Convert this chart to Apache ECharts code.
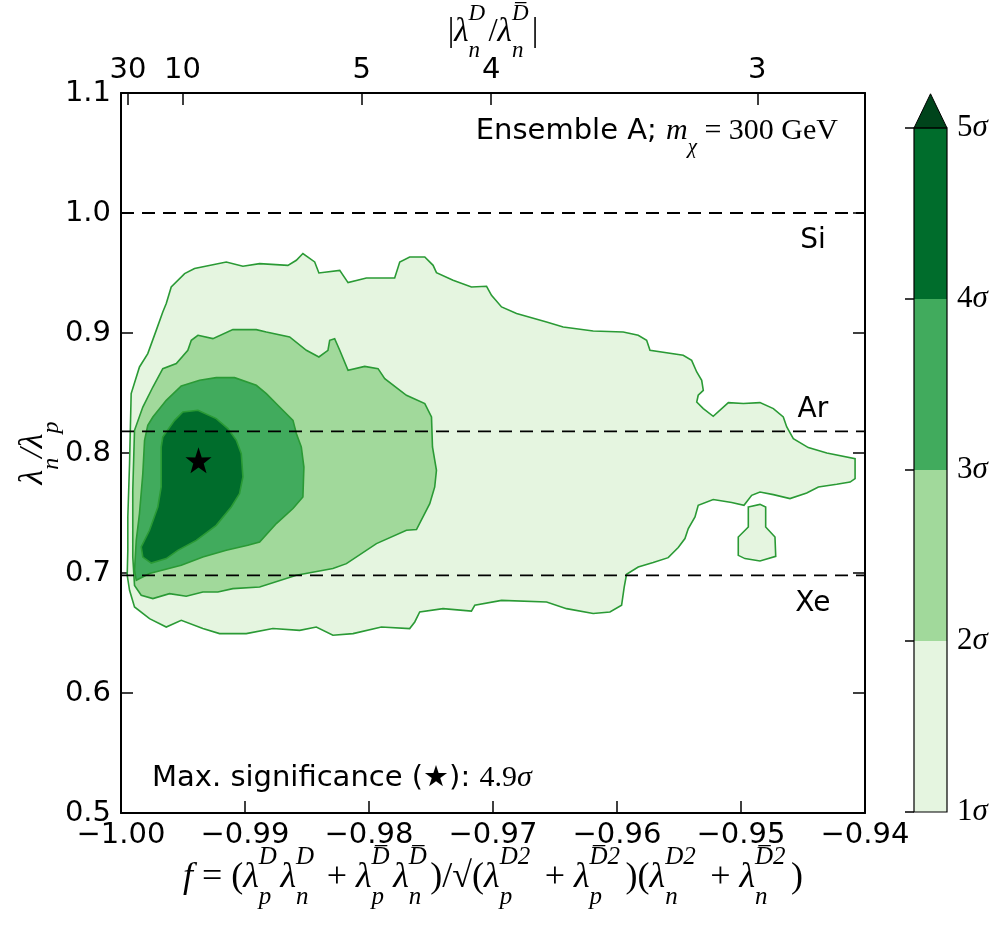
<!DOCTYPE html>
<html>
<head>
<meta charset="utf-8">
<script src="https://cdn.jsdelivr.net/npm/echarts@6/dist/echarts.min.js"></script>
<style>
html, body { margin: 0; padding: 0; background: #fff; }
#chart { width: 1002px; height: 930px; }
</style>
</head>
<body>
<div id="chart"></div>
<script>
// contour outlines, points are [f, lambda_n/lambda_p]
const sigma1 = [[-0.99635,0.9245],[-0.99595,0.9383],[-0.99487,0.9495],[-0.99407,0.9537],[-0.99151,0.9592],[-0.99017,0.9556],[-0.98882,0.9578],[-0.98654,0.9564],[-0.98586,0.9606],[-0.98533,0.9662],[-0.98438,0.9592],[-0.98404,0.95],[-0.98236,0.9522],[-0.98169,0.942],[-0.98021,0.9458],[-0.97793,0.9458],[-0.97752,0.9592],[-0.97672,0.9633],[-0.9755,0.9633],[-0.97483,0.9564],[-0.97456,0.9503],[-0.97322,0.9439],[-0.97174,0.9383],[-0.97052,0.9389],[-0.97012,0.9314],[-0.96931,0.9217],[-0.9681,0.9162],[-0.96568,0.9092],[-0.96434,0.905],[-0.96192,0.9017],[-0.9595,0.9008],[-0.95829,0.8981],[-0.95761,0.8939],[-0.95734,0.8856],[-0.95466,0.8814],[-0.95398,0.8772],[-0.95357,0.8675],[-0.95317,0.8606],[-0.95304,0.8522],[-0.95345,0.8481],[-0.95357,0.8425],[-0.95304,0.837],[-0.95224,0.8306],[-0.95102,0.842],[-0.94981,0.8412],[-0.94847,0.842],[-0.94739,0.837],[-0.94659,0.83],[-0.94631,0.8217],[-0.94578,0.812],[-0.94457,0.8045],[-0.94308,0.8],[-0.9408,0.7953],[-0.9408,0.7787],[-0.9412,0.7758],[-0.94228,0.7739],[-0.94376,0.7717],[-0.9447,0.7667],[-0.94605,0.762],[-0.94739,0.7653],[-0.94847,0.7675],[-0.94914,0.7647],[-0.94976,0.7564],[-0.95075,0.7587],[-0.95224,0.7612],[-0.95345,0.7564],[-0.95371,0.7467],[-0.95425,0.737],[-0.95452,0.7287],[-0.95506,0.7212],[-0.95587,0.7128],[-0.95708,0.7087],[-0.95829,0.705],[-0.95923,0.6989],[-0.95942,0.6883],[-0.95963,0.6731],[-0.96057,0.6675],[-0.96192,0.6662],[-0.96407,0.6703],[-0.96568,0.6758],[-0.96931,0.6772],[-0.97147,0.6731],[-0.97174,0.6683],[-0.97403,0.6703],[-0.97591,0.6675],[-0.97631,0.6592],[-0.97672,0.6537],[-0.979,0.655],[-0.98129,0.6495],[-0.98291,0.6481],[-0.98425,0.655],[-0.98559,0.6522],[-0.98775,0.6537],[-0.9899,0.6495],[-0.99205,0.6495],[-0.9934,0.6537],[-0.99514,0.6606],[-0.99635,0.655],[-0.9977,0.662],[-0.99891,0.6717],[-0.99931,0.6856],[-0.9995,0.6981],[-0.99945,0.7189],[-0.99945,0.7467],[-0.99931,0.7912],[-0.99918,0.8495],[-0.99851,0.8717],[-0.99784,0.8828],[-0.99716,0.9022],[-0.99663,0.9175]];
const sigma1Island = [[-0.94941,0.755],[-0.94847,0.7572],[-0.94801,0.755],[-0.94801,0.7383],[-0.94726,0.73],[-0.9472,0.7139],[-0.94847,0.71],[-0.94968,0.712],[-0.95022,0.7147],[-0.95022,0.73],[-0.94941,0.7383]];
const sigma2 = [[-0.9938,0.8981],[-0.99259,0.8953],[-0.99098,0.9028],[-0.98909,0.9028],[-0.98828,0.9008],[-0.9864,0.8967],[-0.98505,0.8856],[-0.98404,0.88],[-0.98331,0.8856],[-0.98317,0.8939],[-0.98277,0.8953],[-0.98236,0.8856],[-0.98169,0.8689],[-0.98035,0.8722],[-0.97927,0.8703],[-0.97873,0.862],[-0.97698,0.8481],[-0.9755,0.8412],[-0.97496,0.83],[-0.97488,0.805],[-0.97456,0.7856],[-0.9747,0.7717],[-0.9751,0.7578],[-0.97617,0.7362],[-0.97698,0.7356],[-0.9794,0.7245],[-0.98182,0.7078],[-0.98291,0.7037],[-0.98586,0.6981],[-0.98882,0.6883],[-0.99098,0.687],[-0.99219,0.6842],[-0.9934,0.6842],[-0.99474,0.6806],[-0.99609,0.6828],[-0.99743,0.6787],[-0.99837,0.6814],[-0.99891,0.6897],[-0.99905,0.7133],[-0.99905,0.7689],[-0.99891,0.8189],[-0.99824,0.8383],[-0.99743,0.855],[-0.99663,0.8703],[-0.99554,0.8745],[-0.99461,0.8856],[-0.99433,0.8939]];
const sigma3 = [[-0.99514,0.8558],[-0.99366,0.8606],[-0.99232,0.8628],[-0.99084,0.8628],[-0.98909,0.8564],[-0.98828,0.8495],[-0.98721,0.8383],[-0.98613,0.8272],[-0.98586,0.8162],[-0.98546,0.805],[-0.98525,0.7883],[-0.98533,0.7633],[-0.98613,0.7537],[-0.98747,0.7412],[-0.98882,0.7258],[-0.98977,0.7231],[-0.99151,0.7189],[-0.9934,0.7133],[-0.99514,0.7064],[-0.9977,0.6995],[-0.99877,0.6939],[-0.99891,0.7022],[-0.99877,0.7272],[-0.99851,0.7495],[-0.99824,0.7828],[-0.9981,0.8106],[-0.99784,0.8231],[-0.99743,0.83],[-0.99635,0.8439]];
const sigma4 = [[-0.99501,0.8342],[-0.9938,0.8356],[-0.99232,0.8287],[-0.99138,0.8203],[-0.9907,0.8106],[-0.9903,0.7995],[-0.99017,0.78],[-0.99044,0.7662],[-0.99111,0.755],[-0.99232,0.7397],[-0.99393,0.7272],[-0.99542,0.7189],[-0.99635,0.712],[-0.99756,0.7083],[-0.99824,0.7133],[-0.99837,0.7217],[-0.9977,0.7356],[-0.99703,0.755],[-0.99676,0.7717],[-0.99676,0.805],[-0.99663,0.8133],[-0.99568,0.8272]];

const bestFit = [-0.99375, 0.7939];
const maxSignificance = 4.9;

const nuclei = ['Si', 'Ar', 'Xe'];
const nucleiRatio = [1.0, 0.818, 0.698];

const ratioTicks = [30, 10, 5, 4, 3];     // |lambda_n^D / lambda_n^Dbar|
const sigmaLevels = [1, 2, 3, 4, 5];
const levelColors = ['#e5f5e0', '#a1d99b', '#41ab5d', '#006d2c'];
const overColor = '#00441b';
const lineGreen = '#2a9a35';

const SANS = 'DejaVu Sans';
const SERIF = 'Liberation Serif';

// position of a |ratio| value on the f axis
const ratioToF = r => -r / Math.sqrt(r * r + 1);
const topTickPos = ratioTicks.map(ratioToF);

function mathRich(size) {
  const s = Math.round(size * 0.7);
  const base = { align: 'left', color: '#000', fontFamily: SERIF };
  const mk = o => Object.assign({}, base, o);
  return {
    it: mk({ fontStyle: 'italic', fontSize: size, lineHeight: size * 1.8, verticalAlign: 'middle' }),
    rm: mk({ fontSize: size, lineHeight: size * 1.8, verticalAlign: 'middle' }),
    sans: mk({ fontFamily: SANS, fontSize: size, lineHeight: size * 1.8, verticalAlign: 'middle' }),
    sup0: mk({ fontStyle: 'italic', fontSize: s, lineHeight: size * 1.1, verticalAlign: 'top', width: 0 }),
    sub: mk({ fontStyle: 'italic', fontSize: s, lineHeight: size * 1.3, verticalAlign: 'bottom' }),
    sub1: mk({ fontStyle: 'italic', fontSize: s, lineHeight: size * 1.3, verticalAlign: 'bottom', width: size * 0.6 }),
    sub2: mk({ fontStyle: 'italic', fontSize: s, lineHeight: size * 1.3, verticalAlign: 'bottom', width: size * 1.0 })
  };
}
const BAR = 'D\u0305';
const lam = (sub, sup, wide) => `{it|λ}{sup0|${sup}}{${wide ? 'sub2' : 'sub1'}|${sub}}`;

const xTitle = '{it|f}{rm| = (}' + lam('p', 'D') + lam('n', 'D') + '{rm| + }' + lam('p', BAR) + lam('n', BAR) +
  '{rm|)/√(}' + lam('p', 'D2', 1) + '{rm| + }' + lam('p', BAR + '2', 1) + '{rm|)(}' +
  lam('n', 'D2', 1) + '{rm| + }' + lam('n', BAR + '2', 1) + '{rm|)}';
const topTitle = '{rm||}' + lam('n', 'D') + '{rm|/}' + lam('n', BAR) + '{rm||}';
const yTitle = '{it|λ}{sub|n}{it|/λ}{sub|p}';

const contourSets = [
  { pts: sigma1, color: levelColors[0] },
  { pts: sigma1Island, color: levelColors[0] },
  { pts: sigma2, color: levelColors[1] },
  { pts: sigma3, color: levelColors[2] },
  { pts: sigma4, color: levelColors[3] }
];

const starPath = 'path://M50,0 L61.8,35.1 L97.6,34.5 L69.1,56.7 L79.4,90.5 L50,70 L20.6,90.5 L30.9,56.7 L2.4,34.5 L38.2,35.1 Z';
const fmtMinus = (v, d) => (v < 0 ? '\u2212' : '') + Math.abs(v).toFixed(d);
const tickFont = { fontFamily: SANS, fontSize: 29, color: '#000' };
const axisLine = { show: true, lineStyle: { color: '#000', width: 2 } };
const annotRich = Object.assign(mathRich(30), {
  sans: { align: 'left', fontFamily: SANS, fontSize: 29, lineHeight: 54, verticalAlign: 'middle', color: '#000' }
});

const chart = echarts.init(document.getElementById('chart'));
chart.setOption({
  animation: false,
  backgroundColor: '#fff',
  grid: [
    { left: 121, top: 93, right: 137, bottom: 117, outerBoundsMode: 'none', containLabel: false },
    { left: 914, top: 128, width: 33, bottom: 118, outerBoundsMode: 'none', containLabel: false }
  ],
  xAxis: [
    {
      gridIndex: 0, type: 'value', min: -1, max: -0.94, interval: 0.01, position: 'bottom',
      axisLine: axisLine,
      axisTick: { inside: true, length: 12, lineStyle: { color: '#000', width: 1.5 } },
      axisLabel: Object.assign({ margin: 8, formatter: v => fmtMinus(v, 2) }, tickFont),
      splitLine: { show: false },
      name: xTitle, nameLocation: 'middle', nameGap: 32, nameMoveOverlap: false,
      nameTextStyle: { rich: mathRich(36) }
    },
    {
      gridIndex: 0, type: 'value', min: -1, max: -0.94, position: 'top',
      axisLine: axisLine,
      axisTick: { inside: true, length: 12, customValues: topTickPos, lineStyle: { color: '#000', width: 1.5 } },
      axisLabel: Object.assign({
        margin: 8, customValues: topTickPos,
        formatter: v => {
          let best = 0;
          topTickPos.forEach((p, i) => { if (Math.abs(p - v) < Math.abs(topTickPos[best] - v)) best = i; });
          return String(ratioTicks[best]);
        }
      }, tickFont),
      splitLine: { show: false },
      name: topTitle, nameLocation: 'middle', nameGap: 31, nameMoveOverlap: false,
      nameTextStyle: { rich: mathRich(33) }
    },
    { gridIndex: 1, type: 'value', min: 0, max: 1, show: false }
  ],
  yAxis: [
    {
      gridIndex: 0, type: 'value', min: 0.5, max: 1.1, interval: 0.1, position: 'left',
      axisLine: axisLine,
      axisTick: { inside: true, length: 12, lineStyle: { color: '#000', width: 1.5 } },
      axisLabel: Object.assign({ margin: 10, formatter: v => v.toFixed(1) }, tickFont),
      splitLine: { show: false },
      name: yTitle, nameLocation: 'middle', nameGap: 57, nameRotate: 90, nameMoveOverlap: false,
      nameTextStyle: { rich: mathRich(34) }
    },
    {
      gridIndex: 0, type: 'value', min: 0.5, max: 1.1, interval: 0.1, position: 'right',
      axisLine: axisLine,
      axisTick: { inside: true, length: 12, lineStyle: { color: '#000', width: 1.5 } },
      axisLabel: { show: false },
      splitLine: { show: false }
    },
    {
      gridIndex: 1, type: 'value', min: sigmaLevels[0], max: sigmaLevels[sigmaLevels.length - 1], interval: 1,
      position: 'right',
      axisLine: { show: false },
      axisTick: { inside: true, length: 9, lineStyle: { color: '#000', width: 1.5 } },
      axisLabel: {
        margin: 10,
        formatter: v => `{n|${v}}{s|σ}`,
        rich: {
          n: { fontFamily: SERIF, fontSize: 31, color: '#000' },
          s: { fontFamily: SERIF, fontStyle: 'italic', fontSize: 31, color: '#000' }
        }
      },
      splitLine: { show: false }
    }
  ],
  series: [
    {
      type: 'custom', xAxisIndex: 0, yAxisIndex: 0, clip: true, z: 2,
      data: contourSets.map(c => c.pts[0]),
      renderItem: (params, api) => {
        const c = contourSets[params.dataIndex];
        return {
          type: 'polygon',
          shape: { points: c.pts.map(p => api.coord(p)) },
          style: { fill: c.color, stroke: lineGreen, lineWidth: 1.6 }
        };
      }
    },
    ...nucleiRatio.map(r => ({
      type: 'line', xAxisIndex: 0, yAxisIndex: 0, z: 3, symbol: 'none', silent: true,
      data: [[-1, r], [-0.94, r]],
      lineStyle: { color: '#000', width: 1.8, type: [13, 8] }
    })),
    {
      type: 'scatter', xAxisIndex: 0, yAxisIndex: 0, z: 4,
      symbol: starPath, symbolSize: 26,
      itemStyle: { color: '#000', opacity: 1 },
      data: [bestFit]
    },
    {
      type: 'scatter', xAxisIndex: 0, yAxisIndex: 0, z: 4, symbolSize: 0,
      itemStyle: { opacity: 1 },
      data: nucleiRatio.map((r, i) => ({
        value: [-0.9442, r],
        label: { offset: i === 1 ? [0, -22] : [0, 28] }
      })),
      label: {
        show: true, position: 'inside',
        formatter: p => nuclei[p.dataIndex],
        fontFamily: SANS, fontSize: 28, color: '#000'
      }
    },
    {
      // colorbar bands
      type: 'custom', xAxisIndex: 2, yAxisIndex: 2, clip: false,
      data: levelColors.map((c, i) => [0, sigmaLevels[i], sigmaLevels[i + 1]]),
      renderItem: (params, api) => {
        const a = api.coord([0, api.value(2)]);
        const b = api.coord([1, api.value(1)]);
        return {
          type: 'rect',
          shape: { x: a[0], y: a[1], width: b[0] - a[0], height: b[1] - a[1] },
          style: { fill: levelColors[params.dataIndex] }
        };
      }
    },
    {
      // colorbar outline and the "max" extension triangle
      type: 'custom', xAxisIndex: 2, yAxisIndex: 2, clip: false, z: 3,
      data: [[0, sigmaLevels[sigmaLevels.length - 1]]],
      renderItem: (params, api) => {
        const lo = sigmaLevels[0], hi = sigmaLevels[sigmaLevels.length - 1];
        const tip = hi + 0.05 * (hi - lo);
        const a = api.coord([0, hi]);
        const b = api.coord([1, lo]);
        return {
          type: 'group',
          children: [
            {
              type: 'polygon',
              shape: { points: [api.coord([0, hi]), api.coord([1, hi]), api.coord([0.5, tip])] },
              style: { fill: overColor, stroke: '#000', lineWidth: 1 }
            },
            {
              type: 'rect',
              shape: { x: a[0], y: a[1], width: b[0] - a[0], height: b[1] - a[1] },
              style: { fill: 'none', stroke: '#000', lineWidth: 1.2 }
            }
          ]
        };
      }
    }
  ],
  graphic: [
    {
      type: 'text', z: 100, x: 838, y: 131,
      style: {
        text: '{sans|Ensemble A; }{it|m}{sub|χ}{rm| = 300 GeV}',
        align: 'right', verticalAlign: 'middle',
        rich: annotRich
      }
    },
    {
      type: 'text', z: 100, x: 152, y: 778,
      style: {
        text: `{sans|Max. significance (★): }{rm|${maxSignificance}}{it|σ}`,
        align: 'left', verticalAlign: 'middle',
        rich: annotRich
      }
    }
  ]
});
</script>
</body>
</html>
